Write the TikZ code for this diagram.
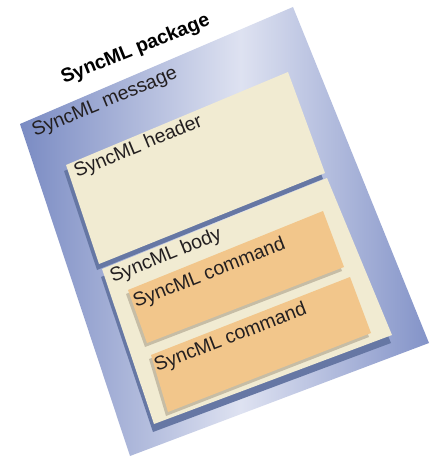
\documentclass[tikz,border=0pt]{standalone}
\usepackage{fontspec}
\setmainfont{Liberation Sans}
\definecolor{pkgdark}{HTML}{7A8BC3}
\definecolor{pkglight}{HTML}{DEE2F1}
\definecolor{pkgright}{HTML}{8393C8}
\definecolor{cream}{HTML}{F1EBD2}
\definecolor{cmdfill}{HTML}{F2C68B}
\definecolor{bluesh}{HTML}{6677A4}
\definecolor{graysh}{HTML}{C6BDA6}
\definecolor{ink}{HTML}{231F20}
% light band in the middle of the package, darker towards both sides
\pgfdeclarehorizontalshading{pkgshade}{100bp}{color(0bp)=(pkgdark); color(25bp)=(pkgdark); color(52bp)=(pkglight); color(75bp)=(pkgright); color(100bp)=(pkgright)}
\begin{document}
\begin{tikzpicture}[x=1pt,y=-1pt,
  lbl/.style={inner sep=0pt, anchor=base west, text=ink, font=\fontsize{19.5}{22}\selectfont},
  creambox/.style={fill=cream},
  cmdbox/.style={fill=cmdfill},
  blueshadow/.style={fill=bluesh},
  grayshadow/.style={fill=graysh}]
\useasboundingbox (0,0) rectangle (435,457);

% SyncML package
\shade[shading=pkgshade] (20,124) -- (293,7) -- (429,343) -- (130,456) -- cycle;

% header with its shadow
\fill[blueshadow, shift={(-2,6)}] (66,165) -- (288,72) -- (325,173) -- (99,264) -- cycle;
\fill[creambox] (66,165) -- (288,72) -- (325,173) -- (99,264) -- cycle;

% body with its shadow
\fill[blueshadow, shift={(-1,8)}] (102,269) -- (327,178) -- (392,335) -- (154,424) -- cycle;
\fill[creambox] (102,269) -- (327,178) -- (392,335) -- (154,424) -- cycle;

% commands
\fill[grayshadow, shift={(-2,4)}] (128,290) -- (323,211) -- (344,267) -- (147,343) -- cycle;
\fill[cmdbox] (128,290) -- (323,211) -- (344,267) -- (147,343) -- cycle;
\fill[grayshadow, shift={(-2,4)}] (151,355) -- (350,277) -- (371,333) -- (168,412) -- cycle;
\fill[cmdbox] (151,355) -- (350,277) -- (371,333) -- (168,412) -- cycle;

% labels
\node[lbl, rotate=22, font=\fontsize{19.5}{22}\selectfont\bfseries, text=black] (package) at (64,84) {SyncML package};
\node[lbl, rotate=22.5] (message) at (35,137) {SyncML message};
\node[lbl, rotate=22.5] (header) at (77,178) {SyncML header};
\node[lbl, rotate=22] (body) at (113,283) {SyncML body};
\node[lbl, rotate=21.5] (cmdA) at (136,308) {SyncML command};
\node[lbl, rotate=21.2] (cmdB) at (157,372) {SyncML command};
\end{tikzpicture}
\end{document}
